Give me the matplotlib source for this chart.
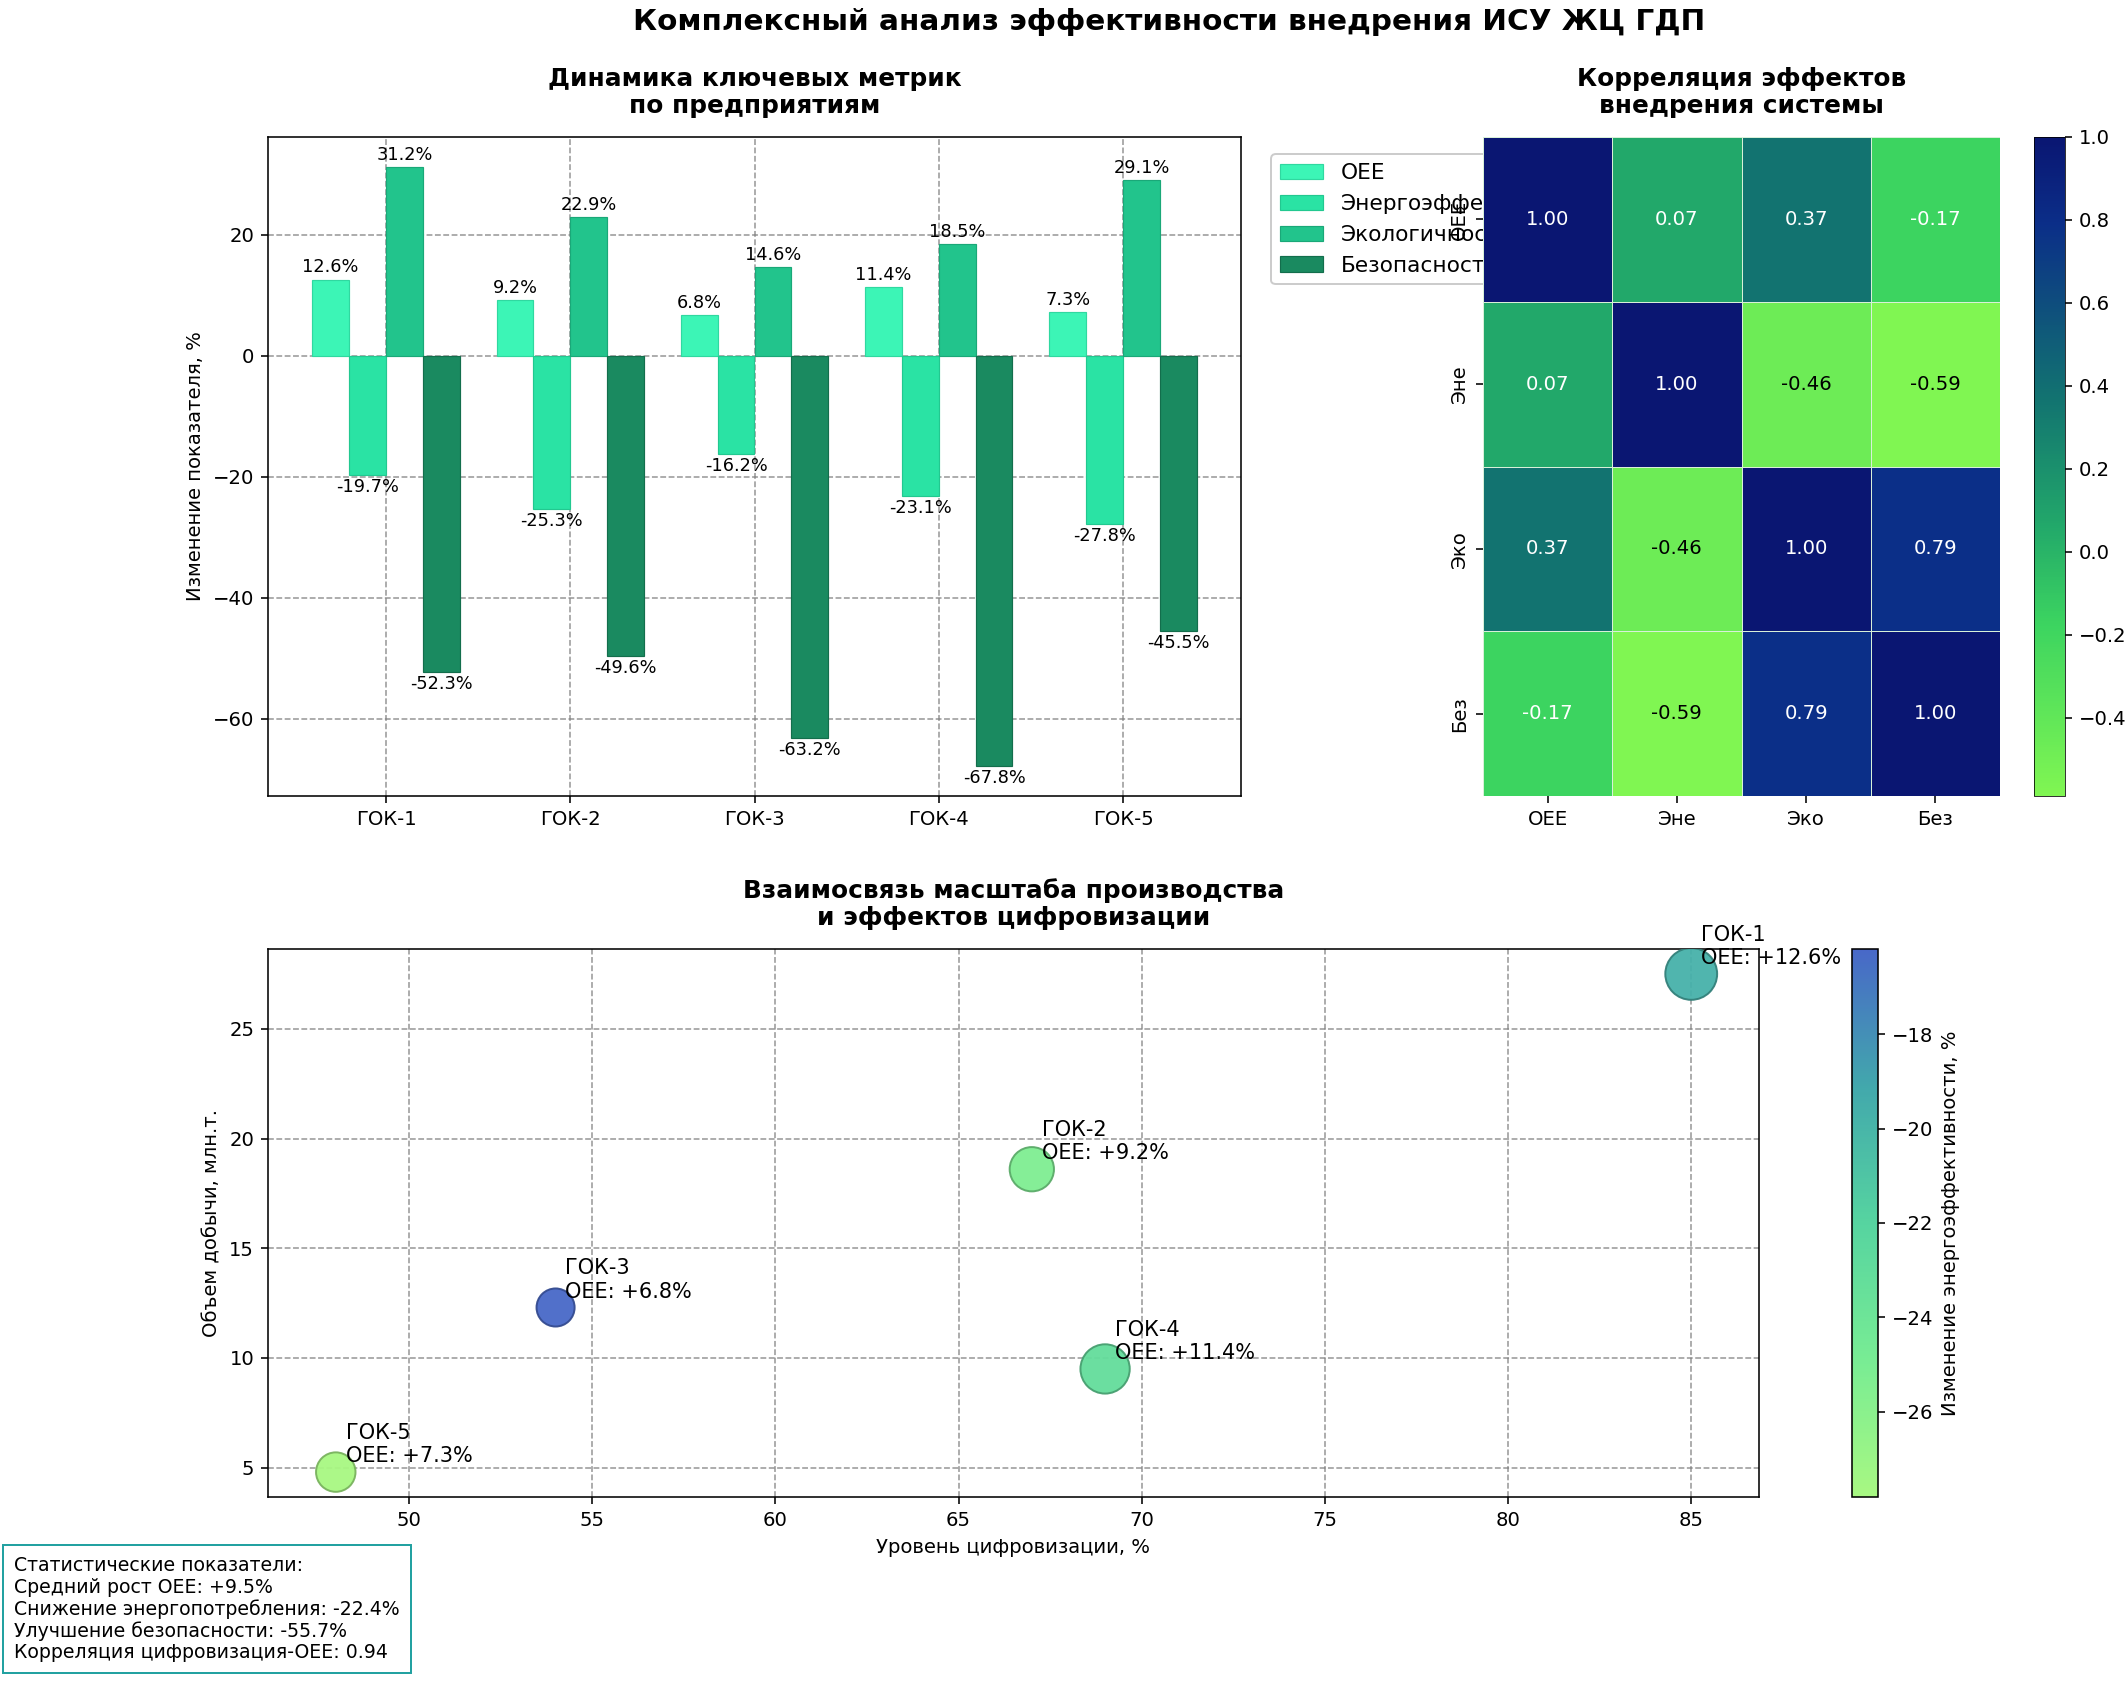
import numpy as np
import matplotlib
matplotlib.use("Agg")
import matplotlib.pyplot as plt
from matplotlib.colors import LinearSegmentedColormap, Normalize

plt.rcParams['font.family'] = ['DejaVu Sans']

# ---------------- data ----------------
enterprises = ['ГОК-1', 'ГОК-2', 'ГОК-3', 'ГОК-4', 'ГОК-5']
metric_names = ['OEE', 'Энергоэффективность', 'Экологичность', 'Безопасность']
short_names = ['OEE', 'Эне', 'Эко', 'Без']
oee = [12.6, 9.2, 6.8, 11.4, 7.3]
energy = [-19.7, -25.3, -16.2, -23.1, -27.8]
ecology = [31.2, 22.9, 14.6, 18.5, 29.1]
safety = [-52.3, -49.6, -63.2, -67.8, -45.5]
digitalization = [85, 67, 54, 69, 48]
production = [27.5, 18.6, 12.3, 9.5, 4.8]

bar_colors = ['#3CF5B6', '#2AE3A4', '#22C48C', '#1A8A60']
bar_edges = ['#30D8A0', '#22C890', '#1AA878', '#136E4C']

W, H = 2126, 1694
DPI = 141.73
fig = plt.figure(figsize=(W / DPI, H / DPI), dpi=DPI)

def box(l, t, r, b):
    return [l / W, 1 - b / H, (r - l) / W, (b - t) / H]

grid_kw = dict(linestyle='--', color='#808080', alpha=0.8, linewidth=0.8)
TITLE_FS = 12.6

# ---------------- bar chart ----------------
ax1 = fig.add_axes(box(268, 137, 1241, 796))
x = np.arange(len(enterprises))
series = [oee, energy, ecology, safety]
width = 0.2
for i, (vals, name) in enumerate(zip(series, metric_names)):
    pos = x + (i - 1.5) * width
    ax1.bar(pos, vals, width, label=name, color=bar_colors[i],
            edgecolor=bar_edges[i], linewidth=0.6, zorder=2)
    for xp, v in zip(pos, vals):
        if v >= 0:
            ax1.text(xp, v + 0.5, f'{v}%', ha='center', va='bottom', fontsize=9)
        else:
            ax1.text(xp, v - 0.5, f'{v}%', ha='center', va='top', fontsize=9)
ax1.set_xticks(x)
ax1.set_xticklabels(enterprises, fontsize=10)
ax1.set_ylabel('Изменение показателя, %', fontsize=10)
ax1.set_title('Динамика ключевых метрик\nпо предприятиям', fontsize=TITLE_FS,
              fontweight='bold', pad=12)
ax1.grid(True, **grid_kw)
ax1.legend(loc='upper left', bbox_to_anchor=(1.02, 0.99), fontsize=11,
           framealpha=1.0)

# ---------------- heatmap ----------------
vals = np.array([oee, energy, ecology, safety])
corr = np.corrcoef(vals)
hm_cmap = LinearSegmentedColormap.from_list('hm', [
    (0.0, '#80F652'), (0.26, '#3CD460'), (0.41, '#22A86A'),
    (0.60, '#127470'), (0.87, '#0B2E88'), (1.0, '#0A1672')])
ax2 = fig.add_axes(box(1483, 137, 2000, 796))
mesh = ax2.pcolormesh(corr, cmap=hm_cmap, vmin=corr.min(), vmax=1.0,
                      edgecolors='#d8f0d8', linewidth=0.3)
ax2.set_xlim(0, 4)
ax2.set_ylim(4, 0)
for i in range(4):
    for j in range(4):
        v = corr[i, j]
        col = 'black' if v < -0.3 else 'white'
        ax2.text(j + 0.5, i + 0.5, f'{v:.2f}', ha='center', va='center',
                 fontsize=10, color=col)
ax2.set_xticks(np.arange(4) + 0.5)
ax2.set_xticklabels(short_names, fontsize=10)
ax2.set_yticks(np.arange(4) + 0.5)
ax2.set_yticklabels(short_names, fontsize=10, rotation=90, va='center')
for s in ax2.spines.values():
    s.set_visible(False)
ax2.set_title('Корреляция эффектов\nвнедрения системы', fontsize=TITLE_FS,
              fontweight='bold', pad=12)
cax1 = fig.add_axes(box(2034, 137, 2065, 796))
cb1 = fig.colorbar(mesh, cax=cax1)
cb1.outline.set_linewidth(0.4)
cb1.ax.tick_params(labelsize=10)

# ---------------- scatter ----------------
sc_cmap = LinearSegmentedColormap.from_list('sc', [
    '#A8F882', '#78EC94', '#56D4A0', '#42A8AC', '#4868C8'])
norm = Normalize(vmin=min(energy), vmax=max(energy))
ax3 = fig.add_axes(box(268, 949, 1759, 1497))
face = sc_cmap(norm(np.array(energy)))
edge = face.copy()
edge[:, :3] = edge[:, :3] * 0.72
ax3.scatter(digitalization, production, s=np.array(oee) * 55, c=energy,
            cmap=sc_cmap, norm=norm, alpha=0.95, edgecolors=edge,
            linewidths=1.0, zorder=3)
for name, xv, yv, o in zip(enterprises, digitalization, production, oee):
    ax3.annotate(f'{name}\nOEE: +{o}%', (xv, yv), xytext=(5, 5),
                 textcoords='offset points', fontsize=10.6, zorder=4)
ax3.set_xlabel('Уровень цифровизации, %', fontsize=10)
ax3.set_ylabel('Объем добычи, млн.т.', fontsize=10)
ax3.set_title('Взаимосвязь масштаба производства\nи эффектов цифровизации',
              fontsize=TITLE_FS, fontweight='bold', pad=12)
ax3.grid(True, **grid_kw)
cax2 = fig.add_axes(box(1852, 949, 1878, 1497))
sm = plt.cm.ScalarMappable(norm=norm, cmap=sc_cmap)
cb2 = fig.colorbar(sm, cax=cax2)
cb2.set_label('Изменение энергоэффективности, %', fontsize=10)
cb2.ax.tick_params(labelsize=10)

# ---------------- stats text ----------------
mean_oee = np.mean(oee)
mean_energy = np.mean(energy)
mean_safety = np.mean(safety)
r_dig = np.corrcoef(digitalization, oee)[0, 1]
stats = (f'Статистические показатели:\n'
         f'Средний рост OEE: +{mean_oee:.1f}%\n'
         f'Снижение энергопотребления: {mean_energy:.1f}%\n'
         f'Улучшение безопасности: {mean_safety:.1f}%\n'
         f'Корреляция цифровизация-OEE: {r_dig:.2f}')
fig.text(14 / W, 1 - 1662 / H, stats, fontsize=9.6, ha='left', va='bottom',
         linespacing=1.15,
         bbox=dict(boxstyle='square,pad=0.6', facecolor='white',
                   edgecolor='#20A0A0', linewidth=1.0))

fig.suptitle('Комплексный анализ эффективности внедрения ИСУ ЖЦ ГДП',
             fontsize=15, fontweight='bold', x=0.55, y=0.995, va='top')

fig.savefig('out.png', dpi=DPI)
